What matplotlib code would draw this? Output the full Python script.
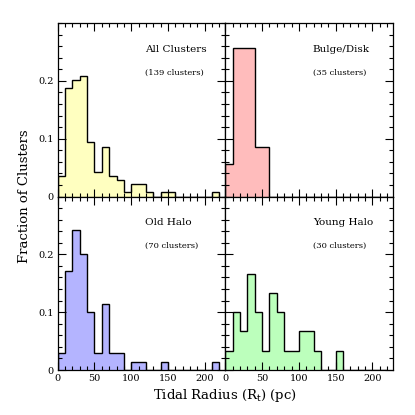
import numpy as np
import matplotlib
matplotlib.use("Agg")
import matplotlib.pyplot as plt
from matplotlib.ticker import MultipleLocator

# bin edges in pc (10 pc bins)
edges = np.arange(0, 230, 10)

# cluster counts per bin
all_counts = [5, 26, 28, 29, 13, 6, 12, 5, 4, 1, 3, 3, 1, 0, 1, 1, 0, 0, 0, 0, 0, 1]
bulge_counts = [2, 9, 9, 9, 3, 3, 0, 0, 0, 0, 0, 0, 0, 0, 0, 0, 0, 0, 0, 0, 0, 0]
old_counts = [2, 12, 17, 14, 7, 2, 8, 2, 2, 0, 1, 1, 0, 0, 1, 0, 0, 0, 0, 0, 0, 1]
young_counts = [1, 3, 2, 5, 3, 1, 4, 3, 1, 1, 2, 2, 1, 0, 0, 1, 0, 0, 0, 0, 0, 0]

titles = ["All Clusters", "Bulge/Disk", "Old Halo", "Young Halo"]
subtitles = ["(139 clusters)", "(35 clusters)", "(70 clusters)", "(30 clusters)"]
colors = ["#ffffc0", "#ffbcbc", "#b4b4ff", "#bcffbc"]
counts = [all_counts, bulge_counts, old_counts, young_counts]

plt.rcParams['font.family'] = ['DejaVu Serif']

fig = plt.figure(figsize=(4.15, 4.15), dpi=100)
L, B, W, H = 0.139, 0.1084, 0.404, 0.418
boxes = [(L, B + H), (L + W, B + H), (L, B), (L + W, B)]

for i, (x0, y0) in enumerate(boxes):
    ax = fig.add_axes([x0, y0, W, H])
    c = np.array(counts[i], dtype=float)
    frac = c / c.sum()
    ax.stairs(frac, edges, fill=True, color=colors[i], lw=0)
    ax.stairs(frac, edges, color="black", lw=1.0)
    ax.set_xlim(0, 228)
    ax.set_ylim(0, 0.3)
    ax.xaxis.set_major_locator(MultipleLocator(50))
    ax.xaxis.set_minor_locator(MultipleLocator(10))
    ax.yaxis.set_major_locator(MultipleLocator(0.1))
    ax.yaxis.set_minor_locator(MultipleLocator(0.02))
    ax.tick_params(which="both", direction="in", top=True, right=True,
                   labelsize=7, width=0.8, pad=3)
    ax.tick_params(which="major", length=6)
    ax.tick_params(which="minor", length=3)
    ax.set_yticks([0, 0.1, 0.2])
    ax.set_yticklabels(["0", "0.1", "0.2"])
    ax.set_xticks([0, 50, 100, 150, 200])
    ax.set_xticklabels(["0", "50", "100", "150", "200"])
    if i % 2 == 1:
        ax.tick_params(labelleft=False)
    if i < 2:
        ax.tick_params(labelbottom=False)
    for s in ax.spines.values():
        s.set_linewidth(0.9)
    ax.text(119, 0.255, titles[i], fontsize=7.5, va="center", ha="left")
    ax.text(119, 0.2145, subtitles[i], fontsize=6, va="center", ha="left")

fig.text(0.06, 0.5275, "Fraction of Clusters", rotation=90, fontsize=9.5,
         ha="center", va="center")
fig.text(0.542, 0.046, r"Tidal Radius (R$_{\rm t}$) (pc)", fontsize=9.5,
         ha="center", va="center")

fig.savefig("out.png", dpi=100)
